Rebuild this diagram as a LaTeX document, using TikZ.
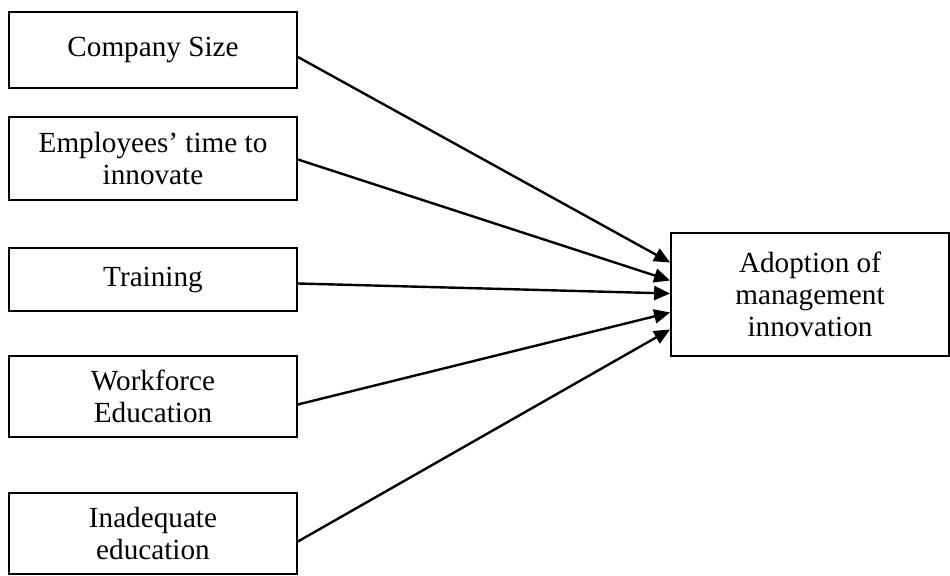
\documentclass[tikz,border=0pt]{standalone}
\usepackage{fontspec}
\setmainfont{Liberation Serif}
\usetikzlibrary{arrows.meta,calc}
\begin{document}
\begin{tikzpicture}[x=0.5pt,y=-0.5pt]

\tikzset{line/.style={draw,line width=0.9pt}}
\tikzset{arrow/.style={draw,line width=1.2pt,-{Triangle[length=8pt,width=7pt]}}}
\tikzset{box/.style={line,rectangle,align=center,inner sep=0pt,minimum width=144pt,font=\fontsize{14.6}{16}\selectfont}}

\useasboundingbox (0,0) rectangle (950,576);

\node[box,minimum height=38pt] (size) at (153,50) {Company Size};
\node[box,minimum height=41.5pt] (time) at (153,158.5) {Employees’ time to\\innovate};
\node[box,minimum height=31.5pt] (train) at (153,279.5) {Training};
\node[box,minimum height=40.5pt] (workedu) at (153,396.5) {Workforce\\Education};
\node[box,minimum height=40.5pt] (inadedu) at (153,533.5) {Inadequate\\education};

\node[box,minimum width=139pt,minimum height=61.5pt] (adopt) at (810,294.5) {Adoption of\\management\\innovation};

\path[arrow] ($(size.east)+(0,7)$) to ($(adopt.west)+(0,-32)$);
\path[arrow] ($(time.east)+(0,1)$) to ($(adopt.west)+(0,-14)$);
\path[arrow] ($(train.east)+(0,4)$) to ($(adopt.west)+(0,-1)$);
\path[arrow] ($(workedu.east)+(0,8)$) to ($(adopt.west)+(0,18)$);
\path[arrow] ($(inadedu.east)+(0,8)$) to ($(adopt.west)+(0,35)$);

\end{tikzpicture}
\end{document}
